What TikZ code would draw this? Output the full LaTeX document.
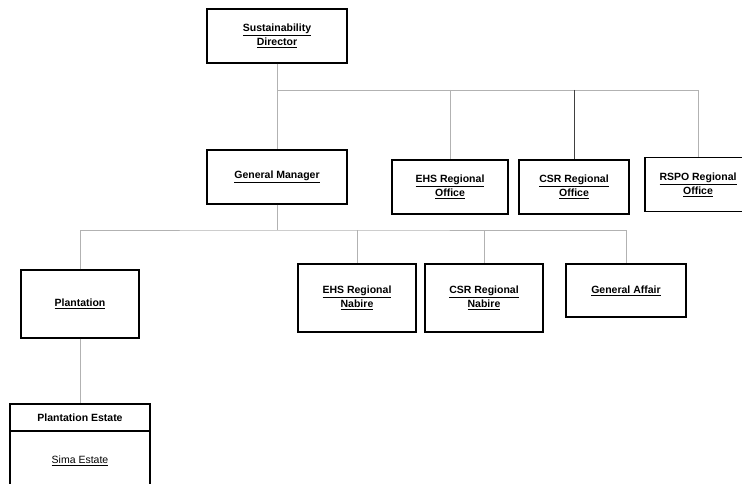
\documentclass[tikz,border=0pt]{standalone}
\usepackage{fontspec}
\setmainfont{Liberation Sans}
\usetikzlibrary{positioning}
\newcommand{\ul}[1]{\underline{#1}}

\begin{document}
\begin{tikzpicture}[x=1pt,y=-1pt,
  box/.style={draw=black,line width=1.1pt,fill=white,minimum width=118pt,
    minimum height=54pt,align=center,font=\fontsize{10.5}{14}\selectfont\bfseries},
  lnk/.style={draw=black!30,line width=0.7pt}
]
  \useasboundingbox (0,0) rectangle (742,484);
  % top level
  \node[box,minimum width=140pt] (sd) at (277,36) {\ul{Sustainability}\\\ul{Director}};
  \node[box,minimum width=140pt] (gm) at (277,177) {\ul{General Manager}};
  \node[box,minimum width=116pt] (ehso) at (450,187) {\ul{EHS Regional}\\\ul{Office}};
  \node[box,minimum width=110pt] (csro) at (574,187) {\ul{CSR Regional}\\\ul{Office}};
  \node[box,minimum width=106pt] (rspo) at (698,184.5) {\ul{RSPO Regional}\\\ul{Office}};
  % second level
  \node[box,minimum height=68pt] (plant) at (80,304) {\ul{Plantation}};
  \node[box,minimum height=68pt] (ehsn) at (357,298) {\ul{EHS Regional}\\\ul{Nabire}};
  \node[box,minimum height=68pt] (csrn) at (484,298) {\ul{CSR Regional}\\\ul{Nabire}};
  \node[box,minimum width=120pt,minimum height=53pt] (ga) at (626,290.5) {\ul{General Affair}};
  % estate
  \node[box,minimum width=140pt,minimum height=27pt] (pe) at (80,417.5) {Plantation Estate};
  \node[box,minimum width=140pt,minimum height=60pt,font=\fontsize{10.5}{14}\selectfont,
    below=-1.1pt of pe] (sima) {\ul{Sima Estate}};
  % bus lines
  \coordinate (bus1) at (277,90);
  \coordinate (bus2) at (277,230);
  \draw[lnk] (sd) -- (gm);
  \draw[lnk] (bus1) -| (rspo.north);
  \draw[lnk] (bus1 -| ehso) -- (ehso.north);
  \draw[lnk,draw=black!75] (bus1 -| csro) -- (csro.north);
  \draw[lnk] (gm) -- (bus2);
  \draw[lnk] (plant.north) |- (bus2) -| (ga.north);
  \draw[lnk] (bus2 -| ehsn) -- (ehsn.north);
  \draw[lnk] (bus2 -| csrn) -- (csrn.north);
  \draw[lnk] (plant) -- (pe);
\end{tikzpicture}
\end{document}
